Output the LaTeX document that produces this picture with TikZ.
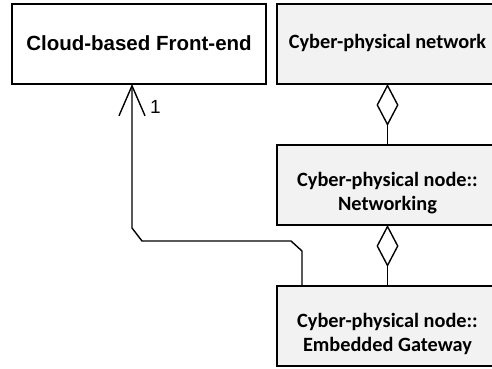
\documentclass[tikz,border=0pt]{standalone}
\usepackage{fontspec}
\setmainfont{Liberation Sans}
\newfontfamily\calibri{Carlito}
\usetikzlibrary{positioning,arrows.meta}

\begin{document}
\begin{tikzpicture}[x=1pt,y=1pt,
    box/.style={rectangle,draw,line width=1.6pt,outer sep=0pt,inner sep=0pt,minimum height=80pt},
    cp box/.style={box,fill=gray!10,minimum width=221pt},
    clsname/.style={font=\fontsize{20.5}{24}\selectfont\bfseries},
    cpname/.style={font=\calibri\fontsize{20.3}{24}\selectfont\bfseries,align=center},
    aggr/.style={line width=1.4pt,-{Diamond[open,length=42pt,width=22pt,line width=1.4pt]}},
    assoc/.style={line width=1.4pt,-{Straight Barb[length=30pt,width=26pt,line width=1.4pt]}}]
  \useasboundingbox (0,0) rectangle (492,-368);
  \clip (0,0) rectangle (492,-368);

  \node[box,minimum width=254pt] (frontend) at (139,-44) {};
  \node[cp box] (network) [right=11pt of frontend] {};
  \node[cp box] (networking) [below=61pt of network] {};
  \node[cp box] (gateway) [below=61pt of networking] {};

  % class names
  \node[clsname] (frontend-t) at ([yshift=-39pt]frontend.north) {Cloud-based Front-end};
  \node[cpname] (network-t) at ([yshift=-39pt]network.north) {Cyber-physical network};
  \node[cpname] (networking-t) at ([yshift=-48pt]networking.north) {Cyber-physical node::\\Networking};
  \node[cpname] (gateway-t) at ([yshift=-48pt]gateway.north) {Cyber-physical node::\\Embedded Gateway};

  % aggregations
  \draw[aggr] (networking.north) -- (network.south);
  \draw[aggr] (gateway.north) -- (networking.south);

  % association
  \draw[assoc] ([xshift=25pt]gateway.north west) -- ++(0,35) -- ++(-11,10) -- ++(-149,0) -- ++(-10,13)
    -- node (one) [pos=0.84,anchor=west,xshift=14pt,font=\fontsize{19}{22}\selectfont] {1} ([xshift=-7pt]frontend.south);
\end{tikzpicture}
\end{document}
